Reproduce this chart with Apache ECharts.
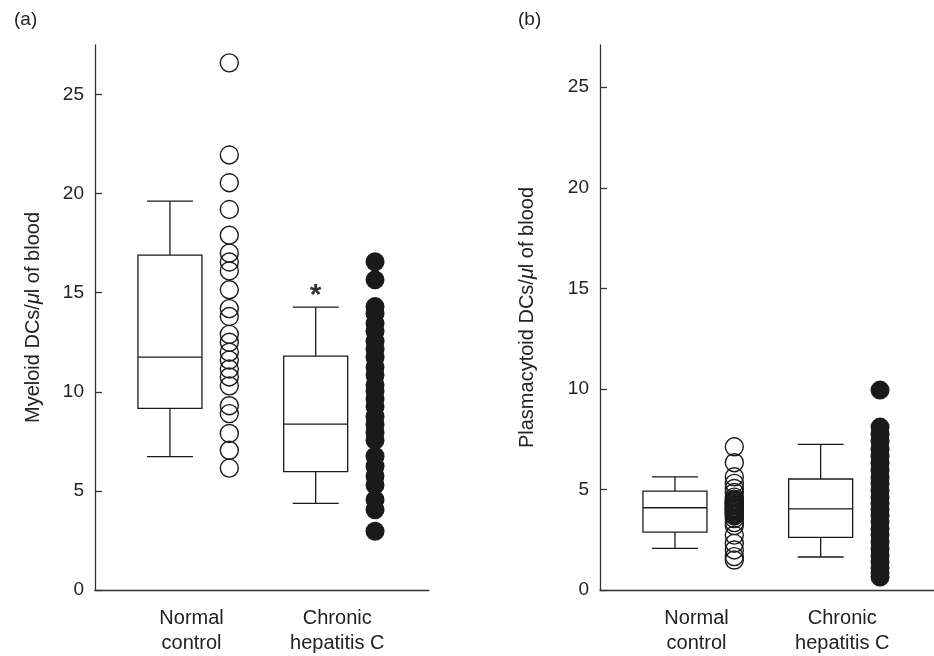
<!DOCTYPE html>
<html>
<head>
<meta charset="utf-8">
<script src="https://cdn.jsdelivr.net/npm/echarts@6/dist/echarts.min.js"></script>
<style>
  html, body { margin: 0; padding: 0; background: #fff; }
  #main { width: 934px; height: 656px; }
</style>
</head>
<body>
<div id="main"></div>
<script>
// groups and tick labels
const categories = ["Normal\ncontrol", "Chronic\nhepatitis C"];
const yTicks = [0, 5, 10, 15, 20, 25];

// (a) myeloid DCs / ul -- individual values
const myeloidNormal = [26.6, 21.95, 20.55, 19.2, 17.9, 17.0, 16.55, 16.1, 15.15, 14.2, 13.8,
  12.9, 12.5, 12.0, 11.6, 11.15, 10.75, 10.3, 9.3, 8.9, 7.9, 7.05, 6.15];
const myeloidHCV = [16.56, 15.65, 14.3, 13.95, 13.45, 13.05, 12.55, 12.15, 11.75, 11.25, 10.85,
  10.35, 10.05, 9.65, 9.25, 8.75, 8.35, 7.95, 7.55, 6.75, 6.25, 5.75, 5.3, 4.55, 4.05, 2.96];
// box stats: min, q1, median, q3, max
const myeloidNormalBox = [6.73, 9.16, 11.75, 16.9, 19.62];
const myeloidHCVBox = [4.37, 5.97, 8.37, 11.8, 14.27];
const myeloidSig = [15.2];

// (b) plasmacytoid DCs / ul
const plasmaNormal = [7.12, 6.33, 5.63, 5.3, 5.05, 4.85, 4.62, 4.52, 4.47, 4.43, 4.38, 4.34,
  4.3, 4.25, 4.21, 4.17, 4.12, 4.08, 4.04, 4.0, 3.95, 3.91, 3.87, 3.82, 3.78, 3.73, 3.68,
  3.55, 3.35, 3.2, 2.73, 2.32, 1.99, 1.66, 1.49];
const plasmaHCV = [9.94, 8.1, 7.75, 7.4, 7.0, 6.65, 6.3, 5.95, 5.6, 5.3, 4.95, 4.6, 4.3, 4.0,
  3.7, 3.4, 3.05, 2.75, 2.4, 2.05, 1.7, 1.4, 1.1, 0.85, 0.65];
const plasmaNormalBox = [2.07, 2.88, 4.09, 4.92, 5.63];
const plasmaHCVBox = [1.64, 2.62, 4.03, 5.52, 7.24];

// layout (x positions on a hidden 0..XMAX scale)
const XMAX = 5.57;
const boxPos = [1.25, 3.68];
const dotPos = [2.24, 4.67];
const labelPos = [1.61, 4.04];
const INK = "#1a1a1a";
const FONT = "Liberation Sans, Arial, Helvetica, sans-serif";

function renderBox(params, api) {
  const x = api.value(0);
  const pMin = api.coord([x, api.value(1)]);
  const pQ1 = api.coord([x, api.value(2)]);
  const pMed = api.coord([x, api.value(3)]);
  const pQ3 = api.coord([x, api.value(4)]);
  const pMax = api.coord([x, api.value(5)]);
  const cx = pMed[0];
  const half = 32, cap = 23;
  const st = { stroke: INK, lineWidth: 1.3, fill: null };
  return {
    type: "group",
    children: [
      { type: "rect", shape: { x: cx - half, y: pQ3[1], width: half * 2, height: pQ1[1] - pQ3[1] }, style: st },
      { type: "line", shape: { x1: cx - half, y1: pMed[1], x2: cx + half, y2: pMed[1] }, style: st },
      { type: "line", shape: { x1: cx, y1: pQ3[1], x2: cx, y2: pMax[1] }, style: st },
      { type: "line", shape: { x1: cx, y1: pQ1[1], x2: cx, y2: pMin[1] }, style: st },
      { type: "line", shape: { x1: cx - cap, y1: pMax[1], x2: cx + cap, y2: pMax[1] }, style: st },
      { type: "line", shape: { x1: cx - cap, y1: pMin[1], x2: cx + cap, y2: pMin[1] }, style: st },
    ],
  };
}

function xAxisOpt(gi) {
  return {
    gridIndex: gi,
    type: "value",
    min: 0,
    max: XMAX,
    axisLine: { show: true, lineStyle: { color: "#333", width: 1.3 } },
    axisTick: { show: false },
    splitLine: { show: false },
    axisLabel: {
      customValues: labelPos,
      formatter: (v) => categories[labelPos.indexOf(v)] || "",
      fontSize: 20,
      lineHeight: 25,
      margin: 16,
      color: "#222",
      fontFamily: FONT,
    },
  };
}

function yAxisOpt(gi, max, name, gap) {
  return {
    gridIndex: gi,
    type: "value",
    min: 0,
    max: max,
    interval: 5,
    name: name,
    nameLocation: "middle",
    nameGap: gap,
    nameTextStyle: {
      fontSize: 20,
      color: "#222",
      fontFamily: FONT,
      rich: { i: { fontSize: 20, fontStyle: "italic", color: "#222", fontFamily: FONT } },
    },
    axisLine: { show: true, lineStyle: { color: "#333", width: 1.3 } },
    axisTick: { show: true, inside: true, length: 7, customValues: yTicks, lineStyle: { color: "#333", width: 1.3 } },
    axisLabel: { customValues: yTicks, margin: 11, fontSize: 19, color: "#222", fontFamily: FONT },
    splitLine: { show: false },
  };
}

function boxSeries(gi, boxes) {
  return {
    type: "custom",
    xAxisIndex: gi,
    yAxisIndex: gi,
    renderItem: renderBox,
    encode: { x: 0, y: [1, 2, 3, 4, 5] },
    data: boxes.map((b, i) => [boxPos[i]].concat(b)),
    silent: true,
    z: 2,
  };
}

function dotSeries(gi, values, pos, filled) {
  return {
    type: "scatter",
    xAxisIndex: gi,
    yAxisIndex: gi,
    symbol: "circle",
    symbolSize: filled ? 19 : 18,
    itemStyle: filled
      ? { color: INK, borderWidth: 0, opacity: 1 }
      : { color: "rgba(0,0,0,0)", borderColor: INK, borderWidth: 1.4, opacity: 1 },
    data: values.map((v) => [pos, v]),
    silent: true,
    z: 3,
  };
}

const option = {
  animation: false,
  backgroundColor: "#fff",
  textStyle: { fontFamily: FONT },
  title: [
    { text: "(a)", left: 9, top: 5, textStyle: { fontSize: 19, fontWeight: "normal", color: "#222", fontFamily: FONT } },
    { text: "(b)", left: 513, top: 5, textStyle: { fontSize: 19, fontWeight: "normal", color: "#222", fontFamily: FONT } },
  ],
  grid: [
    { left: 95, top: 45, width: 334, height: 547 },
    { left: 600, top: 45, width: 334, height: 545 },
  ],
  xAxis: [xAxisOpt(0), xAxisOpt(1)],
  yAxis: [
    yAxisOpt(0, 27.5, "Myeloid DCs/{i|μ}l of blood", 52),
    yAxisOpt(1, 27.1, "Plasmacytoid DCs/{i|μ}l of blood", 63),
  ],
  series: [
    boxSeries(0, [myeloidNormalBox, myeloidHCVBox]),
    dotSeries(0, myeloidNormal, dotPos[0], false),
    dotSeries(0, myeloidHCV, dotPos[1], true),
    {
      type: "scatter",
      xAxisIndex: 0,
      yAxisIndex: 0,
      symbolSize: 0,
      data: myeloidSig.map((v) => [boxPos[1], v]),
      label: { show: true, position: "inside", formatter: "*", fontSize: 30, fontWeight: "bold", color: "#000", offset: [0, 7] },
      silent: true,
    },
    boxSeries(1, [plasmaNormalBox, plasmaHCVBox]),
    dotSeries(1, plasmaNormal, dotPos[0], false),
    dotSeries(1, plasmaHCV, dotPos[1], true),
  ],
};

var myChart = echarts.init(document.getElementById("main"));
option && myChart.setOption(option);
</script>
</body>
</html>
